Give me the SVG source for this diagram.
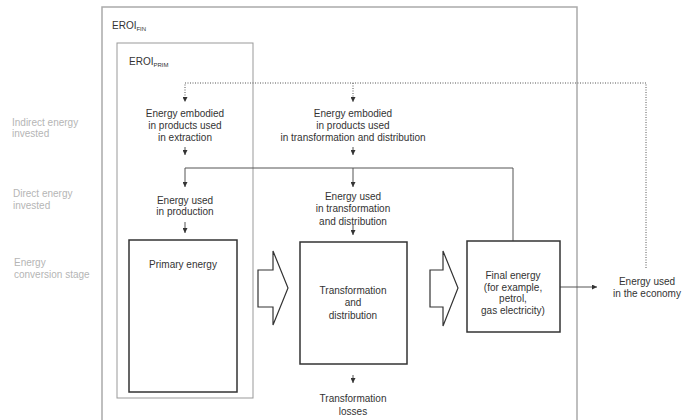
<svg xmlns="http://www.w3.org/2000/svg" width="683" height="420" viewBox="0 0 683 420">
<defs>
<marker id="ah" viewBox="0 0 10 10" refX="10" refY="5" markerWidth="5" markerHeight="5" orient="auto" markerUnits="userSpaceOnUse">
<path d="M0,0 L10,5 L0,10 Z" fill="#333"/>
</marker>
</defs>
<style>
text{font-family:"Liberation Sans",Arial,sans-serif;font-size:10px;fill:#333;text-anchor:middle}
.lbl{fill:#b5b5b5;text-anchor:start}
.hdr{text-anchor:start;fill:#333}
.sub{font-size:6px}
.frame{fill:none;stroke:#aaa;stroke-width:1.5}
.inner{fill:none;stroke:#999;stroke-width:1}
.box{fill:#fff;stroke:#333;stroke-width:1.5}
.blk{fill:#fff;stroke:#333;stroke-width:1.2;stroke-linejoin:miter}
.ln{fill:none;stroke:#555;stroke-width:1}
.dot{fill:none;stroke:#555;stroke-width:1;stroke-dasharray:1 1.5}
</style>
<rect width="683" height="420" fill="#fff"/>

<g id="left-labels">
<text class="lbl" x="12" y="126">Indirect energy</text>
<text class="lbl" x="12" y="137">invested</text>
<text class="lbl" x="13" y="197">Direct energy</text>
<text class="lbl" x="13" y="209">invested</text>
<text class="lbl" x="14" y="266">Energy</text>
<text class="lbl" x="14" y="278">conversion stage</text>
</g>

<g id="eroi-fin">
<path class="frame" d="M102,421 V7 H577 V421"/>
<text class="hdr" x="112" y="29">EROI<tspan class="sub" dy="2">FIN</tspan></text>
</g>

<g id="eroi-prim">
<rect class="inner" x="117" y="43" width="136" height="355"/>
<text class="hdr" x="129" y="65">EROI<tspan class="sub" dy="2">PRIM</tspan></text>
</g>

<g id="connectors">
<path class="dot" d="M646,268 V83 H185 V102" marker-end="url(#ah)"/>
<path class="dot" d="M353,83 V102" marker-end="url(#ah)"/>
<path class="ln" d="M185,147 V155" marker-end="url(#ah)"/>
<path class="ln" d="M353,147 V155" marker-end="url(#ah)"/>
<path class="ln" d="M513,241 V168 H185 V187" marker-end="url(#ah)"/>
<path class="ln" d="M353,168 V187" marker-end="url(#ah)"/>
<path class="ln" d="M185,222 V233" marker-end="url(#ah)"/>
<path class="ln" d="M353,225 V235" marker-end="url(#ah)"/>
<path class="ln" d="M353,375 V383" marker-end="url(#ah)"/>
<path class="ln" d="M560,287 H597" marker-end="url(#ah)"/>
<polygon class="blk" points="258,270 273,270 273,251 288,288 273,325 273,307 258,307"/>
<polygon class="blk" points="430,270 443,270 443,251 458,288 443,326 443,307 430,307"/>
</g>

<g id="embodied-extraction">
<text x="185" y="117">Energy embodied</text>
<text x="185" y="129">in products used</text>
<text x="185" y="141">in extraction</text>
</g>

<g id="embodied-transformation">
<text x="353" y="117">Energy embodied</text>
<text x="353" y="129">in products used</text>
<text x="353" y="141">in transformation and distribution</text>
</g>

<g id="used-production">
<text x="185" y="204">Energy used</text>
<text x="185" y="215">in production</text>
</g>

<g id="used-transformation">
<text x="353" y="200">Energy used</text>
<text x="353" y="212">in transformation</text>
<text x="353" y="225">and distribution</text>
</g>

<g id="primary-energy">
<rect class="box" x="129" y="240" width="108" height="152"/>
<text x="183" y="268">Primary energy</text>
</g>

<g id="transformation">
<rect class="box" x="300" y="242" width="107" height="122"/>
<text x="353" y="294">Transformation</text>
<text x="353" y="306">and</text>
<text x="353" y="319">distribution</text>
</g>

<g id="losses">
<text x="353" y="402">Transformation</text>
<text x="353" y="415">losses</text>
</g>

<g id="final-energy">
<rect class="box" x="467" y="241" width="93" height="91"/>
<text x="513" y="279">Final energy</text>
<text x="513" y="291">(for example,</text>
<text x="513" y="302">petrol,</text>
<text x="513" y="314">gas electricity)</text>
</g>

<g id="economy">
<text x="647" y="285">Energy used</text>
<text x="647" y="297">in the economy</text>
</g>
</svg>
